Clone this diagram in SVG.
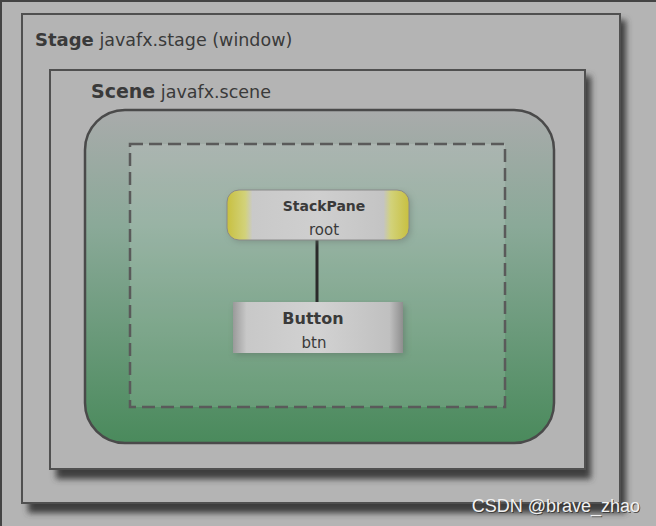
<svg xmlns="http://www.w3.org/2000/svg" width="656" height="526" viewBox="0 0 656 526">
<defs>
<filter id="sh" x="-10%" y="-10%" width="130%" height="130%"><feGaussianBlur stdDeviation="3"/></filter>
<linearGradient id="gr" x1="0" y1="0" x2="0" y2="1">
<stop offset="0" stop-color="#a9abab"/><stop offset="0.35" stop-color="#8aa998"/><stop offset="1" stop-color="#4a8a5c"/>
</linearGradient>
<linearGradient id="sp" x1="0" y1="0" x2="1" y2="0">
<stop offset="0" stop-color="#c8c040"/><stop offset="0.1" stop-color="#d2d27a"/><stop offset="0.14" stop-color="#c9c9c9"/><stop offset="0.5" stop-color="#cfcfcf"/><stop offset="0.86" stop-color="#c4c4c4"/><stop offset="0.9" stop-color="#d2d27a"/><stop offset="1" stop-color="#c8c040"/>
</linearGradient>
<linearGradient id="bt" x1="0" y1="0" x2="1" y2="0">
<stop offset="0" stop-color="#9a9a9a"/><stop offset="0.08" stop-color="#c8c8c8"/><stop offset="0.5" stop-color="#d2d2d2"/><stop offset="0.92" stop-color="#c0c0c0"/><stop offset="1" stop-color="#8e8e8e"/>
</linearGradient>
<style>
.box{fill:#b4b4b4;stroke:#505050;stroke-width:2}
.t{font-family:"DejaVu Sans",Verdana,sans-serif;fill:#3a3a3a}
.b{font-weight:bold}
</style>
</defs>
<rect width="656" height="526" fill="#b4b4b4"/>
<rect x="0" y="0" width="656" height="2" fill="#444"/>
<rect x="0" y="0" width="2" height="526" fill="#444"/>
<g id="stage">
<rect x="28" y="20" width="598" height="493" fill="#3c3c3c" filter="url(#sh)"/>
<rect class="box" x="22" y="14" width="598" height="489"/>
<text class="t" x="35" y="46" font-size="18"><tspan class="b">Stage</tspan><tspan font-size="17.5"> javafx.stage (window)</tspan></text>
</g>
<g id="scene">
<rect x="56" y="76" width="535" height="403" fill="#3c3c3c" filter="url(#sh)"/>
<rect class="box" x="50" y="70" width="535" height="399"/>
<text class="t" x="91" y="98" font-size="19"><tspan class="b">Scene</tspan><tspan font-size="17.5"> javafx.scene</tspan></text>
</g>
<g id="scene-area">
<rect x="85" y="110" width="469" height="333" rx="40" ry="40" fill="url(#gr)" stroke="#4a4a4a" stroke-width="2.5"/>
<rect x="130" y="144" width="375" height="263" fill="#ffffff" fill-opacity="0.12" stroke="#5a5a5a" stroke-width="2.5" stroke-dasharray="13 6"/>
</g>
<g id="connectors">
<line x1="317" y1="240" x2="317" y2="302" stroke="#2a2a2a" stroke-width="3"/>
</g>
<g id="stackpane">
<rect x="229" y="192" width="182" height="50" rx="12" fill="#6a7a70" opacity="0.5" filter="url(#sh)"/>
<rect x="227" y="190" width="182" height="50" rx="12" fill="url(#sp)" stroke="#8a8a8a" stroke-width="1"/>
<text class="t b" x="324" y="211" font-size="14" text-anchor="middle">StackPane</text>
<text class="t" x="324" y="235" font-size="15" text-anchor="middle">root</text>
</g>
<g id="button">
<rect x="235" y="305" width="170" height="50" fill="#5a6a60" opacity="0.5" filter="url(#sh)"/>
<rect x="233" y="302" width="170" height="51" fill="url(#bt)"/>
<text class="t b" x="313" y="324" font-size="16" text-anchor="middle">Button</text>
<text class="t" x="314" y="348" font-size="15" text-anchor="middle">btn</text>
</g>
<text x="641" y="513" font-family="'Liberation Sans',Arial,sans-serif" font-size="18" text-anchor="end" fill="#333" opacity="0.8">CSDN @brave_zhao</text>
<text x="640" y="512" font-family="'Liberation Sans',Arial,sans-serif" font-size="18" text-anchor="end" fill="#f2f2f2">CSDN @brave_zhao</text>
</svg>
